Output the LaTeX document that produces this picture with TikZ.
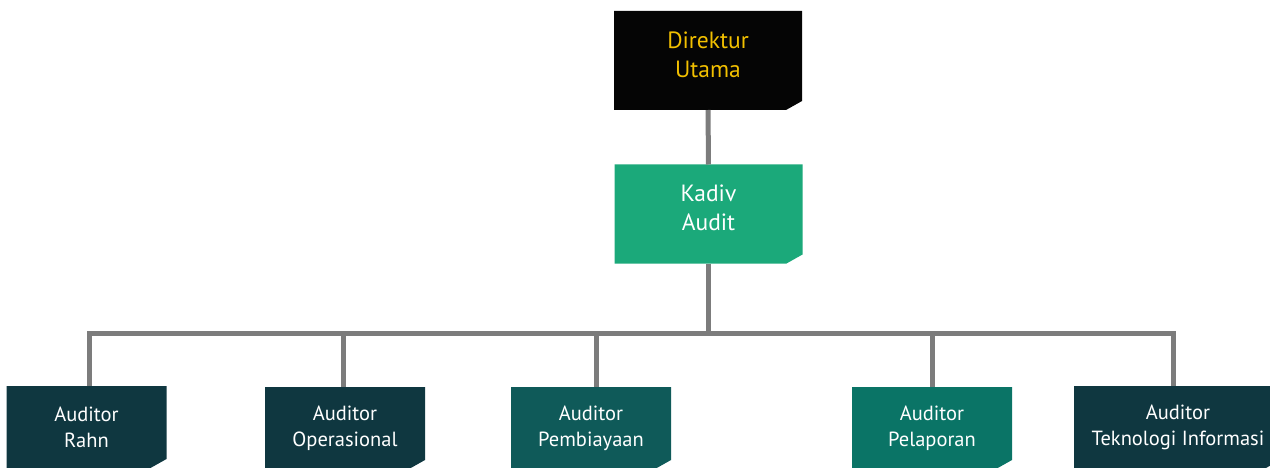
\documentclass[tikz,border=0pt]{standalone}
\usepackage{fontspec}
\setmainfont{PT Sans}
\usetikzlibrary{calc}
\usetikzlibrary{positioning}

\definecolor{boxblack}{HTML}{050505}
\definecolor{gold}{HTML}{F2C000}
\definecolor{auditgreen}{HTML}{1BA97A}
\definecolor{darkteal}{HTML}{0F3740}
\definecolor{midteal}{HTML}{0F5A59}
\definecolor{lightteal}{HTML}{0A7466}
\definecolor{linegray}{HTML}{7C7C7C}

\tikzset{
  orgbox/.style={rectangle,inner sep=0pt,outer sep=0pt,align=center,
    path picture={
      \fill[#1] (path picture bounding box.north west)
        -- (path picture bounding box.north east)
        -- ([yshift=9pt]path picture bounding box.south east)
        -- ([xshift=-16pt]path picture bounding box.south east)
        -- (path picture bounding box.south west) -- cycle;
    }},
  headbox/.style={orgbox=#1,minimum width=188pt,minimum height=99pt,
    font=\fontsize{23.5}{29}\selectfont,text depth=12pt},
  unitbox/.style={orgbox=#1,minimum width=160pt,minimum height=82pt,
    font=\fontsize{20.5}{26}\selectfont,text=white},
  conn/.style={draw=linegray,line width=5pt}
}

\begin{document}
\begin{tikzpicture}[x=1pt,y=-1pt]

  \useasboundingbox (0,0) rectangle (1270,468);
  \clip (0,0) rectangle (1270,468);

  % top of the chart
  \node [headbox=boxblack,text=gold] (dir) at (708,60.5) {Direktur\\Utama};
  \node [headbox=auditgreen,text=white] (kadiv) at (708.5,214) {Kadiv\\Audit};

  % auditors
  \node [unitbox=darkteal]  (rahn) at (86.5,427)  {Auditor\\Rahn};
  \node [unitbox=darkteal]  (oper) at (345,428)   {Auditor\\Operasional};
  \node [unitbox=midteal]   (pemb) at (591,428)   {Auditor\\Pembiayaan};
  \node [unitbox=lightteal] (pel)  at (932,428)   {Auditor\\Pelaporan};
  \node [unitbox=darkteal,minimum width=208pt] (ti) at (1178,427) {Auditor\\Teknologi Informasi};

  \coordinate (bus) at (708,333);

  \path [conn] (dir) -- (kadiv);
  \path [conn] (kadiv.south) -- (kadiv.south |- bus);
  \path [conn] ([xshift=3pt]rahn.north) |- (bus) -| ([xshift=-5pt]ti.north);
  \foreach \unit/\dx in {oper/-2,pemb/5,pel/0}
    \path [conn] ([xshift=\dx pt]\unit.north) -- ([xshift=\dx pt]\unit.north |- bus);

\end{tikzpicture}
\end{document}
